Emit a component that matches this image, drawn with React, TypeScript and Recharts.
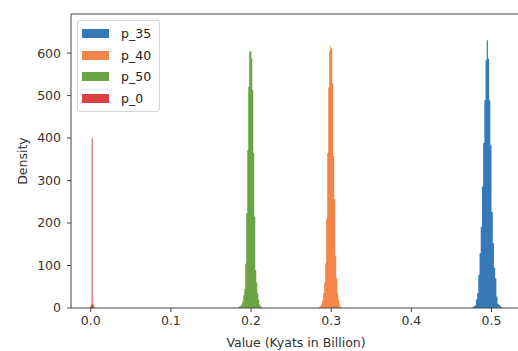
import React from 'react'
import { ComposedChart, Area, XAxis, YAxis, ReferenceLine } from 'recharts'

// histogram bins: first bin edge, bin width, density per bin
const p35Start = 0.476
const p35Bin = 0.0015
const p35Density = [2, 4, 6, 20, 35, 78, 129, 191, 286, 388, 489, 583, 630, 587, 489, 383, 226, 153, 95, 70, 27, 10, 7, 4, 2]

const p40Start = 0.285
const p40Bin = 0.00125
const p40Density = [3, 5, 10, 18, 35, 60, 105, 211, 365, 519, 605, 616, 610, 529, 358, 256, 123, 70, 35, 20, 8, 3]

const p50Start = 0.184
const p50Bin = 0.00125
const p50Density = [2, 4, 5, 8, 15, 30, 45, 105, 223, 372, 521, 603, 605, 588, 513, 364, 215, 89, 60, 35, 20, 8, 4, 2]

const p0Start = -0.0012
const p0Bin = 0.0012
const p0Density = [2, 7, 400, 10, 3]

const xTicks = [0, 0.1, 0.2, 0.3, 0.4, 0.5]
const yTicks = [0, 100, 200, 300, 400, 500, 600]
const xDomain = [-0.0246, 0.533]
const yDomain = [0, 692]

const FONT = "'DejaVu Sans', sans-serif"

function toSteps(start: number, bin: number, values: number[]) {
  const pts = values.map((y, i) => ({ x: start + i * bin, y }))
  pts.push({ x: start + values.length * bin, y: 0 })
  return pts
}

const series = [
  { name: 'p_35', color: '#3579b8', data: toSteps(p35Start, p35Bin, p35Density) },
  { name: 'p_40', color: '#f38548', data: toSteps(p40Start, p40Bin, p40Density) },
  { name: 'p_50', color: '#6aa543', data: toSteps(p50Start, p50Bin, p50Density) },
  { name: 'p_0', color: '#da4141', data: toSteps(p0Start, p0Bin, p0Density) },
]

function LegendBox() {
  return (
    <div
      style={{
        position: 'absolute',
        left: 77,
        top: 20,
        border: '1px solid #d6d6d6',
        borderRadius: 3,
        background: 'rgba(255,255,255,0.85)',
        padding: '2px 8px 2px 4px',
        fontFamily: FONT,
        fontSize: 12.5,
        color: '#222',
      }}
    >
      {series.map((s) => (
        <div key={s.name} style={{ display: 'flex', alignItems: 'center', height: 21.5 }}>
          <span style={{ display: 'inline-block', width: 27, height: 9, background: s.color, marginRight: 12 }} />
          <span>{s.name}</span>
        </div>
      ))}
    </div>
  )
}

export default function App() {
  return (
    <div style={{ position: 'absolute', left: 0, top: 0, width: 518, height: 351, background: '#fff' }}>
      <ComposedChart width={518} height={351} margin={{ top: 14, right: 0, left: 0, bottom: 0 }}>
        <XAxis
          type="number"
          dataKey="x"
          domain={xDomain}
          allowDataOverflow
          ticks={xTicks}
          tickFormatter={(v: number) => v.toFixed(1)}
          height={43}
          tickSize={4}
          tickMargin={4}
          stroke="#444"
          tick={{ fontSize: 12.5, fill: '#333', fontFamily: FONT }}
          label={{
            content: () => (
              <text x={296} y={347} textAnchor="middle" fontSize={12.5} fill="#333" fontFamily={FONT}>
                Value (Kyats in Billion)
              </text>
            ),
          }}
        />
        <YAxis
          type="number"
          domain={yDomain}
          allowDataOverflow
          ticks={yTicks}
          width={71}
          tickSize={4}
          tickMargin={6}
          stroke="#444"
          tick={{ fontSize: 12.5, fill: '#333', fontFamily: FONT }}
          label={{
            content: () => (
              <text
                x={22}
                y={161}
                transform="rotate(-90 22 161)"
                textAnchor="middle"
                dominantBaseline="central"
                fontSize={12.5}
                fill="#333"
                fontFamily={FONT}
              >
                Density
              </text>
            ),
          }}
        />
        <ReferenceLine y={yDomain[1]} stroke="#444" strokeWidth={1} />
        {series.map((s) => (
          <Area
            key={s.name}
            name={s.name}
            data={s.data}
            dataKey="y"
            type="stepAfter"
            stroke="none"
            fill={s.color}
            fillOpacity={1}
            dot={false}
            activeDot={false}
            isAnimationActive={false}
          />
        ))}
      </ComposedChart>
      <LegendBox />
    </div>
  )
}
